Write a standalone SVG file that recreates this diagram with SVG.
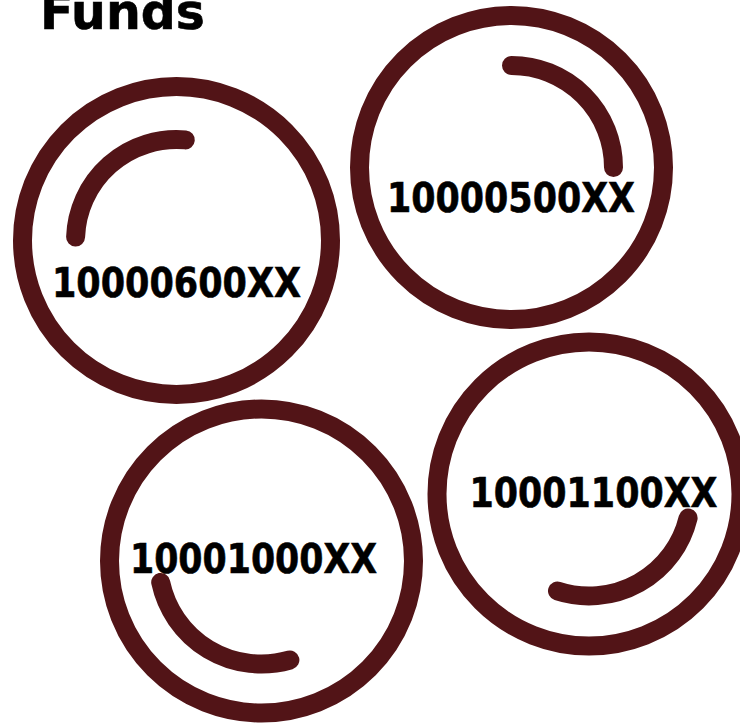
<svg xmlns="http://www.w3.org/2000/svg" width="740" height="726" viewBox="0 0 740 726">
<style>
.ring{fill:none;stroke:#521417;stroke-width:19}
.arc{fill:none;stroke:#521417;stroke-width:19;stroke-linecap:round}
.lbl{font-family:"DejaVu Sans",Verdana,sans-serif;font-weight:bold;font-size:40px;fill:#000;stroke:#000;stroke-width:0.6;text-anchor:middle}
.title{font-family:"DejaVu Sans",Verdana,sans-serif;font-weight:bold;font-size:50px;fill:#000;stroke:#000;stroke-width:0.6}
</style>
<rect width="740" height="726" fill="#fff"/>
<text class="title" x="40" y="29" textLength="165" lengthAdjust="spacingAndGlyphs">Funds</text>
<g id="fund-10000600XX">
<circle class="ring" cx="176.5" cy="240.5" r="154"/>
<path class="arc" d="M75.6,237 A101,101 0 0 1 185.3,139.9"/>
<text class="lbl" x="176.5" y="297" textLength="249" lengthAdjust="spacingAndGlyphs">10000600XX</text>
</g>
<g id="fund-10000500XX">
<circle class="ring" cx="511.5" cy="167.5" r="152"/>
<path class="arc" d="M511.5,65.5 A102,102 0 0 1 613.5,167.5"/>
<text class="lbl" x="511" y="212" textLength="248" lengthAdjust="spacingAndGlyphs">10000500XX</text>
</g>
<g id="fund-10001000XX">
<circle class="ring" cx="261.5" cy="561" r="152"/>
<path class="arc" d="M289.9,660 A103,103 0 0 1 160.7,582.4"/>
<text class="lbl" x="253.5" y="573" textLength="247" lengthAdjust="spacingAndGlyphs">10001000XX</text>
</g>
<g id="fund-10001100XX">
<circle class="ring" cx="589" cy="494" r="152"/>
<path class="arc" d="M688.1,518 A102,102 0 0 1 557.5,591"/>
<text class="lbl" x="593.5" y="507" textLength="248" lengthAdjust="spacingAndGlyphs">10001100XX</text>
</g>
<g id="connectors"></g>
</svg>
